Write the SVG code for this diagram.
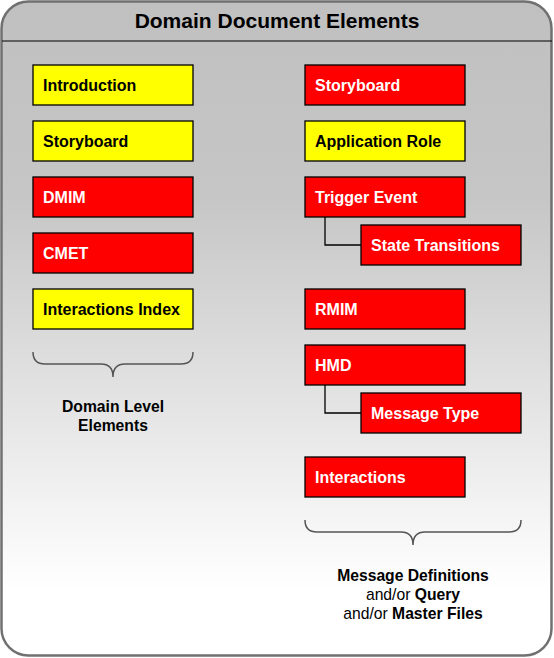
<svg xmlns="http://www.w3.org/2000/svg" width="554" height="658" viewBox="0 0 554 658">
<defs>
<linearGradient id="bg" x1="0" y1="0" x2="0" y2="1">
<stop offset="0" stop-color="#c0c0c0"/>
<stop offset="0.3" stop-color="#c6c6c6"/>
<stop offset="0.9" stop-color="#ffffff"/>
<stop offset="1" stop-color="#ffffff"/>
</linearGradient>
<style>
.t{font-family:"Liberation Sans",Arial,sans-serif;font-weight:bold;font-size:16px}
.y rect{fill:#ffff00;stroke:#000;stroke-width:1.3}
.y text{fill:#000}
.r rect{fill:#ff0000;stroke:#000;stroke-width:1.3}
.r text{fill:#fff}
.c{fill:none;stroke:#000;stroke-width:1.3}
.b{fill:none;stroke:#555;stroke-width:1.5}
.l{font-family:"Liberation Sans",Arial,sans-serif;font-size:15.7px;fill:#000;text-anchor:middle}
</style>
</defs>
<rect x="1.5" y="1.5" width="550" height="654" rx="27" ry="27" fill="url(#bg)" stroke="#707070" stroke-width="2.5"/>
<line x1="2" y1="41" x2="552" y2="41" stroke="#000" stroke-width="1.2"/>
<text x="277" y="28" text-anchor="middle" style="font-family:'Liberation Sans',Arial,sans-serif;font-weight:bold;font-size:21px">Domain Document Elements</text>

<g id="connectors">
<polyline class="c" points="325,217 325,245 361,245"/>
<polyline class="c" points="325,385 325,413 361,413"/>
<path class="b" d="M33,352 Q33,364 45,364 L101,364 Q113,364 113,377 Q113,364 125,364 L181,364 Q193,364 193,352"/>
<path class="b" d="M305,520 Q305,532 317,532 L401,532 Q413,532 413,545 Q413,532 425,532 L509,532 Q521,532 521,520"/>
</g>

<g id="introduction" class="y"><rect x="33" y="65" width="160" height="40"/><text class="t" x="43" y="91">Introduction</text></g>
<g id="storyboard-left" class="y"><rect x="33" y="121" width="160" height="40"/><text class="t" x="43" y="147">Storyboard</text></g>
<g id="dmim" class="r"><rect x="33" y="177" width="160" height="40"/><text class="t" x="43" y="203">DMIM</text></g>
<g id="cmet" class="r"><rect x="33" y="233" width="160" height="40"/><text class="t" x="43" y="259">CMET</text></g>
<g id="interactions-index" class="y"><rect x="33" y="289" width="160" height="40"/><text class="t" x="43" y="315">Interactions Index</text></g>

<g id="storyboard-right" class="r"><rect x="305" y="65" width="160" height="40"/><text class="t" x="315" y="91">Storyboard</text></g>
<g id="application-role" class="y"><rect x="305" y="121" width="160" height="40"/><text class="t" x="315" y="147">Application Role</text></g>
<g id="trigger-event" class="r"><rect x="305" y="177" width="160" height="40"/><text class="t" x="315" y="203">Trigger Event</text></g>
<g id="state-transitions" class="r"><rect x="361" y="225" width="160" height="40"/><text class="t" x="371" y="251">State Transitions</text></g>
<g id="rmim" class="r"><rect x="305" y="289" width="160" height="40"/><text class="t" x="315" y="315">RMIM</text></g>
<g id="hmd" class="r"><rect x="305" y="345" width="160" height="40"/><text class="t" x="315" y="371">HMD</text></g>
<g id="message-type" class="r"><rect x="361" y="393" width="160" height="40"/><text class="t" x="371" y="419">Message Type</text></g>
<g id="interactions" class="r"><rect x="305" y="457" width="160" height="40"/><text class="t" x="315" y="483">Interactions</text></g>

<g id="domain-level-label">
<text class="l" x="113" y="412" font-weight="bold">Domain Level</text>
<text class="l" x="113" y="431" font-weight="bold">Elements</text>
</g>
<g id="message-definitions-label">
<text class="l" x="413" y="581" font-weight="bold">Message Definitions</text>
<text class="l" x="413" y="600">and/or <tspan font-weight="bold">Query</tspan></text>
<text class="l" x="413" y="619">and/or <tspan font-weight="bold">Master Files</tspan></text>
</g>
</svg>
